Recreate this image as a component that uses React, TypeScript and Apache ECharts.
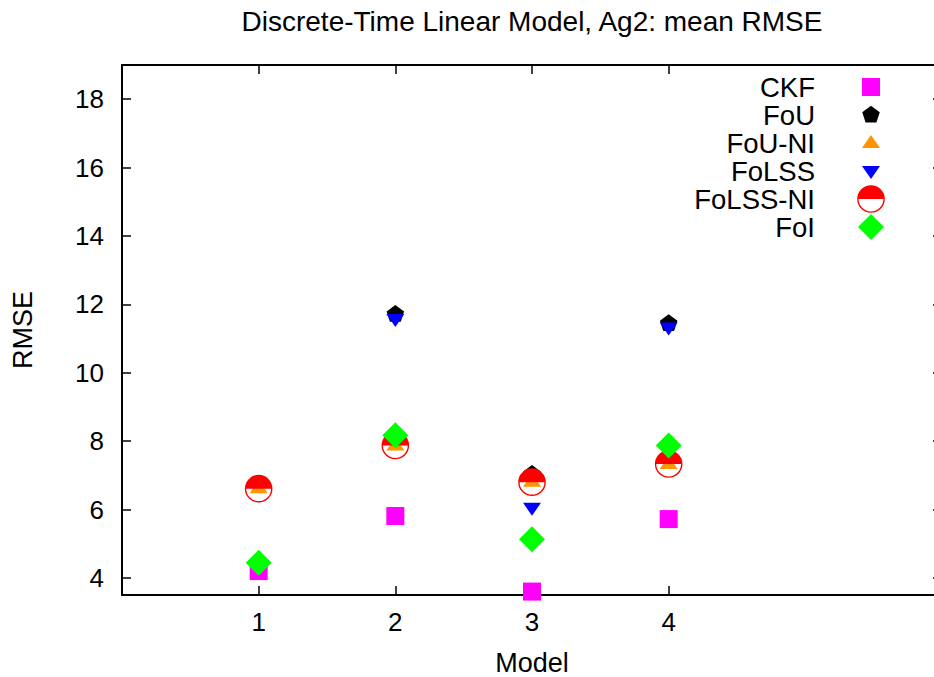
import React, { useEffect, useRef } from "react";
import * as echarts from "echarts";

const models = [1, 2, 3, 4];
const xTicks = [1, 2, 3, 4];
const yTicks = [4, 6, 8, 10, 12, 14, 16, 18];

const seriesNames = ["CKF", "FoU", "FoU-NI", "FoLSS", "FoLSS-NI", "FoI"];
const ckf = [4.2, 5.81, 3.6, 5.72];
const fou = [null, 11.71, 7.03, 11.44];
const fouNI = [6.62, 7.87, 6.81, 7.33];
const folss = [null, 11.57, 6.05, 11.32];
const folssNI = [6.61, 7.87, 6.8, 7.33];
const foi = [4.44, 8.17, 5.13, 7.87];

const seriesValues = [ckf, fou, fouNI, folss, folssNI, foi];
const seriesColors = ["#ff00ff", "#000000", "#ff9400", "#0000ff", "#ff0000", "#00ff00"];

const BOX = "M0 0M30 30";
const seriesSymbols = [
  `path://${BOX}M6 6L24 6L24 24L6 24Z`,
  `path://${BOX}M15 5.8L23.75 12.16L20.41 22.44L9.59 22.44L6.25 12.16Z`,
  `path://${BOX}M15 7L24 20L6 20Z`,
  `path://${BOX}M6 10L24 10L15 23Z`,
  `path://${BOX}M1.2 15A13.8 13.8 0 0 1 28.8 15A13.8 13.8 0 0 1 1.2 15ZM2.6 15A12.4 12.4 0 0 0 27.4 15A12.4 12.4 0 0 0 2.6 15ZM1.2 15A13.8 13.8 0 0 1 28.8 15Z`,
  `path://${BOX}M15 2L28 15L15 28L2 15Z`,
];

const FONT = "'Liberation Sans', Arial, Helvetica, sans-serif";

export default function App() {
  const ref = useRef<HTMLDivElement>(null);

  useEffect(() => {
    if (!ref.current) return;
    const chart = echarts.init(ref.current, null, { renderer: "svg" });

    const series = seriesNames.map((name, i) => ({
      name,
      type: "scatter",
      xAxisIndex: 0,
      yAxisIndex: 0,
      symbol: seriesSymbols[i],
      symbolSize: 30,
      itemStyle: { color: seriesColors[i], opacity: 1 },
      emphasis: { disabled: true },
      data: models
        .map((m, j) => [m, seriesValues[i][j]])
        .filter((p) => p[1] !== null && p[1] !== undefined),
    }));

    const axisLine = { show: true, onZero: false, lineStyle: { color: "#000", width: 2 } };

    chart.setOption({
      animation: false,
      backgroundColor: "#fff",
      textStyle: { fontFamily: FONT },
      title: {
        text: "Discrete-Time Linear Model, Ag2: mean RMSE",
        left: 532,
        top: 7,
        padding: 0,
        textAlign: "center",
        textStyle: { fontFamily: FONT, fontSize: 28, fontWeight: "normal", color: "#000" },
      },
      legend: {
        orient: "vertical",
        align: "right",
        right: 48,
        top: 72,
        padding: 0,
        itemWidth: 102,
        itemHeight: 30,
        itemGap: -2,
        selectedMode: false,
        textStyle: { fontFamily: FONT, fontSize: 27.5, color: "#000" },
        data: seriesNames,
      },
      grid: { left: 122, right: -8, top: 65, bottom: 82, containLabel: false, outerBoundsMode: "none" },
      xAxis: [
        {
          type: "value",
          position: "bottom",
          min: 0,
          max: 6,
          interval: 1,
          name: "Model",
          nameLocation: "middle",
          nameGap: 54,
          nameTextStyle: { fontFamily: FONT, fontSize: 27, lineHeight: 27, color: "#000" },
          axisLine,
          axisTick: { show: true, inside: true, length: 9, customValues: xTicks, lineStyle: { color: "#000", width: 1.5 } },
          axisLabel: { show: true, customValues: xTicks, fontFamily: FONT, fontSize: 26, color: "#000", margin: 14 },
          splitLine: { show: false },
        },
        {
          type: "value",
          position: "top",
          min: 0,
          max: 6,
          interval: 1,
          axisLine,
          axisTick: { show: true, inside: true, length: 9, customValues: xTicks, lineStyle: { color: "#000", width: 1.5 } },
          axisLabel: { show: false },
          splitLine: { show: false },
        },
      ],
      yAxis: [
        {
          type: "value",
          position: "left",
          min: 3.5,
          max: 19,
          name: "RMSE",
          nameLocation: "middle",
          nameRotate: 90,
          nameGap: 86,
          nameTextStyle: { fontFamily: FONT, fontSize: 27, color: "#000" },
          axisLine,
          axisTick: { show: true, inside: true, length: 9, customValues: yTicks, lineStyle: { color: "#000", width: 1.5 } },
          axisLabel: { show: true, customValues: yTicks, fontFamily: FONT, fontSize: 26, color: "#000", margin: 18 },
          splitLine: { show: false },
        },
        {
          type: "value",
          position: "right",
          min: 3.5,
          max: 19,
          axisLine,
          axisTick: { show: true, inside: true, length: 9, customValues: yTicks, lineStyle: { color: "#000", width: 1.5 } },
          axisLabel: { show: false },
          splitLine: { show: false },
        },
      ],
      series,
    });

    return () => chart.dispose();
  }, []);

  return <div ref={ref} style={{ width: 934, height: 677, position: "absolute", left: 0, top: 0 }} />;
}
